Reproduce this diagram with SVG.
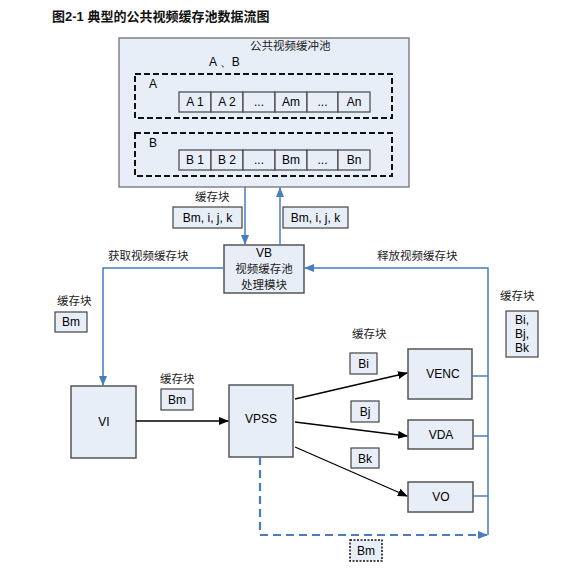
<svg xmlns="http://www.w3.org/2000/svg" width="578" height="573" viewBox="0 0 578 573">
<defs>
<marker id="ab" markerWidth="10" markerHeight="8" refX="9" refY="4" orient="auto" markerUnits="userSpaceOnUse"><path d="M0,0 L10,4 L0,8 Z" fill="#4a7cc0"/></marker>
<marker id="ak" markerWidth="10" markerHeight="8" refX="9" refY="4" orient="auto" markerUnits="userSpaceOnUse"><path d="M0,0 L10,4 L0,8 Z" fill="#000"/></marker>
<style>
.box{fill:#e8eef8;stroke:#555;stroke-width:1.5}
.cell{fill:#e8eef8;stroke:#444;stroke-width:1.2}
.dash{fill:none;stroke:#111;stroke-width:2;stroke-dasharray:6,3}
.bl{fill:none;stroke:#4a7cc0;stroke-width:1.5}
.bk{fill:none;stroke:#000;stroke-width:1.3}
.t{font-family:"Liberation Sans",Arial,sans-serif;font-size:12px;fill:#000}
.c{font-family:"Noto Sans CJK SC",sans-serif;font-size:11.5px;fill:#222}
.m{text-anchor:middle}
</style>
</defs>
<rect width="578" height="573" fill="#fff"/>
<text x="52" y="21" style="font-family:'Liberation Sans','Noto Sans CJK SC',sans-serif;font-size:13px;font-weight:bold;fill:#111">图2-1  典型的公共视频缓存池数据流图</text>

<g id="pool">
<rect class="box" x="119" y="38" width="290" height="149" style="stroke:#666;stroke-width:1.2"/>
<text class="c" x="250" y="50">公共视频缓冲池</text>
<text class="t" x="209" y="66">A 、B</text>
<rect class="dash" x="135" y="74" width="257" height="44"/>
<text class="t" x="149" y="88">A</text>
<rect class="cell" x="179" y="92" width="32" height="20"/><text class="t m" x="195" y="106">A 1</text>
<rect class="cell" x="211" y="92" width="32" height="20"/><text class="t m" x="227" y="106">A 2</text>
<rect class="cell" x="243" y="92" width="32" height="20"/><text class="t m" x="259" y="106">...</text>
<rect class="cell" x="275" y="92" width="32" height="20"/><text class="t m" x="291" y="106">Am</text>
<rect class="cell" x="307" y="92" width="31" height="20"/><text class="t m" x="322.5" y="106">...</text>
<rect class="cell" x="338" y="92" width="32" height="20"/><text class="t m" x="354" y="106">An</text>
<rect class="dash" x="135" y="133" width="257" height="43"/>
<text class="t" x="149" y="147">B</text>
<rect class="cell" x="179" y="150" width="32" height="20"/><text class="t m" x="195" y="164">B 1</text>
<rect class="cell" x="211" y="150" width="32" height="20"/><text class="t m" x="227" y="164">B 2</text>
<rect class="cell" x="243" y="150" width="32" height="20"/><text class="t m" x="259" y="164">...</text>
<rect class="cell" x="275" y="150" width="32" height="20"/><text class="t m" x="291" y="164">Bm</text>
<rect class="cell" x="307" y="150" width="31" height="20"/><text class="t m" x="322.5" y="164">...</text>
<rect class="cell" x="338" y="150" width="32" height="20"/><text class="t m" x="354" y="164">Bn</text>
</g>

<g id="vb">
<rect class="box" x="224" y="245" width="80" height="48"/>
<text class="t m" x="264" y="257">VB</text>
<text class="c m" x="264" y="273">视频缓存池</text>
<text class="c m" x="264" y="289">处理模块</text>
</g>
<g id="vi">
<rect class="box" x="71" y="386" width="65" height="72"/>
<text class="t m" x="104" y="426">VI</text>
</g>
<g id="vpss">
<rect class="box" x="229" y="385" width="64" height="72"/>
<text class="t m" x="261" y="423">VPSS</text>
</g>
<g id="venc">
<rect class="box" x="408" y="349" width="64" height="50"/>
<text class="t m" x="443" y="378">VENC</text>
</g>
<g id="vda">
<rect class="box" x="408" y="420" width="65" height="29"/>
<text class="t m" x="441" y="439">VDA</text>
</g>
<g id="vo">
<rect class="box" x="408" y="482" width="65" height="30"/>
<text class="t m" x="441" y="501">VO</text>
</g>

<g id="connectors">
<line class="bl" x1="245" y1="187" x2="245" y2="244" marker-end="url(#ab)"/>
<line class="bl" x1="280" y1="245" x2="280" y2="188" marker-end="url(#ab)"/>
<polyline class="bl" points="224,268 103,268 103,385" marker-end="url(#ab)"/>
<polyline class="bl" points="488,535 488,268 305,268" marker-end="url(#ab)"/>
<line class="bl" x1="472" y1="376" x2="488" y2="376"/>
<line class="bl" x1="473" y1="436" x2="488" y2="436"/>
<line class="bl" x1="473" y1="496" x2="488" y2="496"/>
<polyline class="bl" points="260,457 260,535 487,535" style="stroke-width:2.2;stroke-dasharray:8,5" marker-end="url(#ab)"/>
<line class="bk" x1="136" y1="421" x2="228" y2="421" marker-end="url(#ak)"/>
<line class="bk" x1="295" y1="399" x2="407" y2="373" marker-end="url(#ak)"/>
<line class="bk" x1="295" y1="422" x2="407" y2="436" marker-end="url(#ak)"/>
<line class="bk" x1="295" y1="447" x2="407" y2="496" marker-end="url(#ak)"/>
</g>

<g id="labels">
<text class="c" x="195" y="201">缓存块</text>
<rect class="cell" x="173" y="207" width="69" height="21"/><text class="t m" x="207.5" y="222">Bm, i, j, k</text>
<rect class="cell" x="283" y="207" width="65" height="21"/><text class="t m" x="315.5" y="222">Bm, i, j, k</text>
<text class="c" x="108" y="260">获取视频缓存块</text>
<text class="c" x="377" y="260">释放视频缓存块</text>
<text class="c" x="57" y="305">缓存块</text>
<rect class="cell" x="55" y="312" width="32" height="20"/><text class="t m" x="71" y="326">Bm</text>
<text class="c" x="160" y="383">缓存块</text>
<rect class="cell" x="161" y="389" width="32" height="21"/><text class="t m" x="177" y="404">Bm</text>
<text class="c" x="352" y="338">缓存块</text>
<rect class="cell" x="350" y="353" width="27" height="21"/><text class="t m" x="363.5" y="368">Bi</text>
<rect class="cell" x="351" y="401" width="28" height="21"/><text class="t m" x="365" y="416">Bj</text>
<rect class="cell" x="351" y="448" width="28" height="20"/><text class="t m" x="365" y="463">Bk</text>
<text class="c" x="500" y="300">缓存块</text>
<rect class="cell" x="506" y="311" width="32" height="46"/>
<text class="t m" x="522" y="324">Bi,</text>
<text class="t m" x="522" y="338">Bj,</text>
<text class="t m" x="522" y="352">Bk</text>
<rect x="350" y="540" width="32" height="21" style="fill:#e8eef8;stroke:#111;stroke-width:1.5;stroke-dasharray:2,1.5"/>
<text class="t m" x="366" y="555">Bm</text>
</g>
</svg>
